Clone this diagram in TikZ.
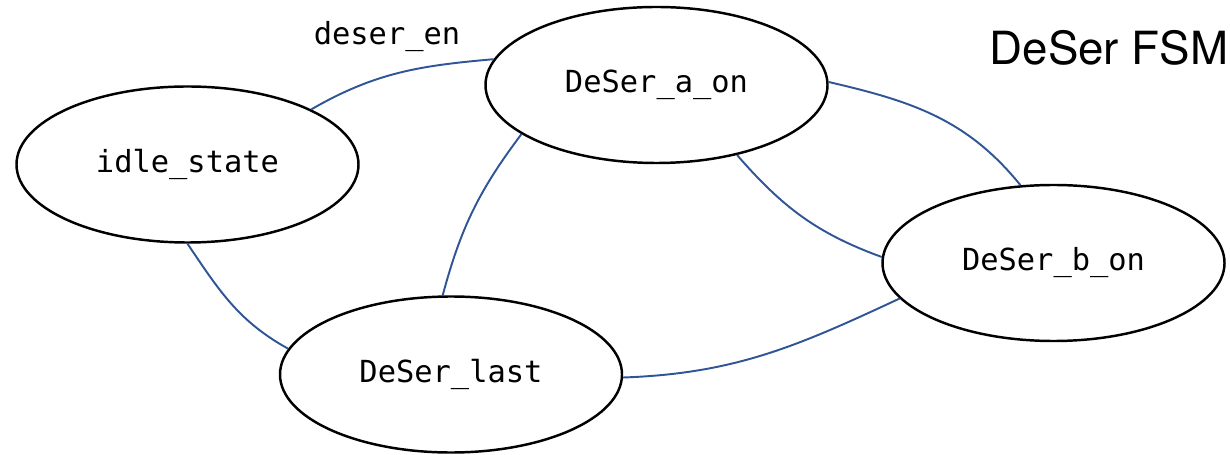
\documentclass[tikz,border=0pt]{standalone}
\usepackage{fontspec}
\setmonofont{DejaVu Sans Mono}
\newfontfamily\headfont{TeX Gyre Heros}
\usetikzlibrary{shapes.geometric}
\definecolor{linkblue}{RGB}{47,85,151}

\begin{document}
\begin{tikzpicture}[
    state/.style={ellipse, draw, line width=1.4pt, inner sep=0pt,
        minimum width=6.84cm, minimum height=3.12cm,
        font=\ttfamily\fontsize{17.3}{20}\selectfont},
    trans/.style={draw=linkblue, line width=1.1pt}
]
\useasboundingbox (0,0) rectangle (24.6,-9.1);

% states
\node[state] (idle) at (3.75,-3.29) {idle\_state};
\node[state] (aon) at (13.13,-1.70) {DeSer\_a\_on};
\node[state] (bon) at (21.07,-5.26) {DeSer\_b\_on};
\node[state] (last) at (9.02,-7.49) {DeSer\_last};

% \node[above left=of aon] {deser_en};
\node (en) at (7.74,-0.74) {\ttfamily\fontsize{17.3}{20}\selectfont deser\_en};
\node (title) at (22.18,-0.96) {\headfont\fontsize{26}{30}\selectfont DeSer FSM};

% transitions
\draw[trans] (idle.24) to[out=30,in=185] (aon.171);
\draw[trans] (aon.1) to[out=-13,in=129] (bon.113);
\draw[trans] (aon.-41) to[out=-49,in=160] (bon.178);
\draw[trans] (idle.270) to[out=-56,in=151] (last.171);
\draw[trans] (aon.200) to[out=233,in=75] (last.96);
\draw[trans] (last.-1) to[out=2,in=205] (bon.193);

\end{tikzpicture}
\end{document}
